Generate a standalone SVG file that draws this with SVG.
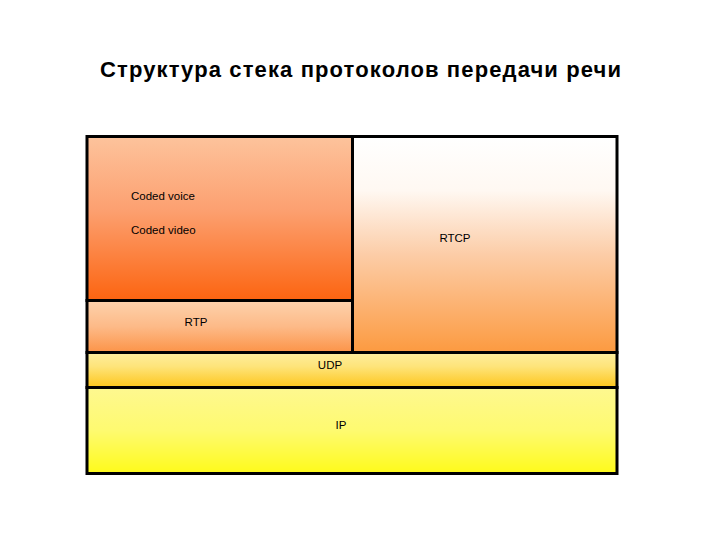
<svg xmlns="http://www.w3.org/2000/svg" width="720" height="540" viewBox="0 0 720 540">
<defs>
<linearGradient id="gCoded" x1="0" y1="0" x2="0" y2="1"><stop offset="0" stop-color="#FDC39C"/><stop offset="0.45" stop-color="#FCA070"/><stop offset="1" stop-color="#FC6410"/></linearGradient>
<linearGradient id="gRtcp" x1="0" y1="0" x2="0" y2="1"><stop offset="0" stop-color="#FFFFFF"/><stop offset="0.25" stop-color="#FFF8F2"/><stop offset="0.55" stop-color="#FCCCA6"/><stop offset="1" stop-color="#FC9A40"/></linearGradient>
<linearGradient id="gRtp" x1="0" y1="0" x2="0" y2="1"><stop offset="0" stop-color="#FDD2AC"/><stop offset="0.5" stop-color="#FDBA88"/><stop offset="1" stop-color="#FC9448"/></linearGradient>
<linearGradient id="gUdp" x1="0" y1="0" x2="0" y2="1"><stop offset="0" stop-color="#FEEE9E"/><stop offset="0.4" stop-color="#FEE47A"/><stop offset="1" stop-color="#FDC61C"/></linearGradient>
<linearGradient id="gIp" x1="0" y1="0" x2="0" y2="1"><stop offset="0" stop-color="#FEF890"/><stop offset="0.5" stop-color="#FEFA70"/><stop offset="1" stop-color="#FEFA1A"/></linearGradient>
</defs>
<style>
.box{stroke:#000;stroke-width:3}
.lbl{font-family:"Liberation Sans",Arial,sans-serif;font-size:11.5px;fill:#000}
.title{font-family:"Liberation Sans",Arial,sans-serif;font-size:22px;font-weight:bold;fill:#000}
</style>
<rect width="720" height="540" fill="#FFFFFF"/>
<text class="title" x="100" y="77" textLength="521" lengthAdjust="spacing">Структура стека протоколов передачи речи</text>
<g id="coded">
<rect class="box" x="87" y="136.5" width="265.5" height="164" fill="url(#gCoded)"/>
<text class="lbl" x="131" y="200">Coded voice</text>
<text class="lbl" x="131" y="234">Coded video</text>
</g>
<g id="rtcp">
<rect class="box" x="352.5" y="136.5" width="264.5" height="216" fill="url(#gRtcp)"/>
<text class="lbl" x="455" y="242" text-anchor="middle">RTCP</text>
</g>
<g id="rtp">
<rect class="box" x="87" y="300.5" width="265.5" height="52" fill="url(#gRtp)"/>
<text class="lbl" x="196" y="326" text-anchor="middle">RTP</text>
</g>
<g id="udp">
<rect class="box" x="87" y="352.5" width="530" height="35" fill="url(#gUdp)"/>
<text class="lbl" x="330" y="369" text-anchor="middle">UDP</text>
</g>
<g id="ip">
<rect class="box" x="87" y="387.5" width="530" height="86" fill="url(#gIp)"/>
<text class="lbl" x="341" y="429" text-anchor="middle">IP</text>
</g>
<g id="connectors"></g>
</svg>
